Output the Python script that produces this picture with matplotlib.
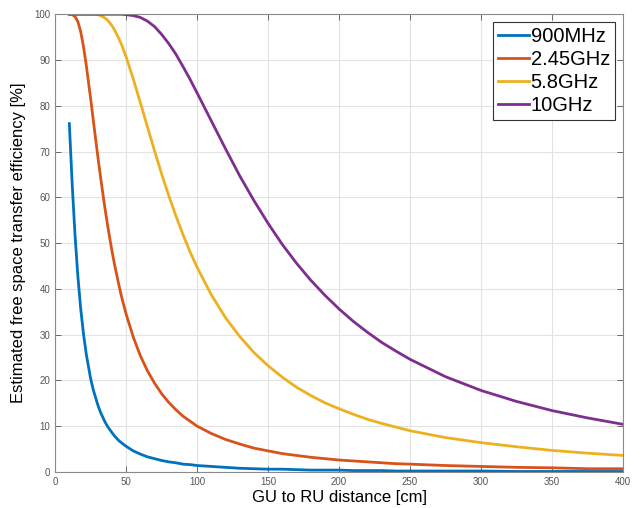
import numpy as np
import matplotlib
matplotlib.use("Agg")
import matplotlib.pyplot as plt

plt.rcParams['font.family'] = ['Liberation Sans', 'DejaVu Sans']

# distance from GU to RU [cm]
distance = [10, 12, 14, 16, 18, 20, 22, 25, 27, 30, 32, 35, 37, 40, 42, 45, 47, 50,
            55, 60, 65, 70, 75, 80, 85, 90, 95, 100, 110, 120, 130, 140, 150, 160,
            170, 180, 190, 200, 210, 220, 230, 240, 250, 275, 300, 325, 350, 375, 400]

# estimated efficiency [%]
eff_900mhz = [76.1, 63.0, 51.8, 42.8, 35.7, 30.1, 25.6, 20.4, 17.8, 14.7, 13.0, 11.0,
              9.9, 8.6, 7.8, 6.8, 6.3, 5.6, 4.6, 3.9, 3.3, 2.9, 2.5, 2.2, 2.0, 1.7,
              1.6, 1.4, 1.2, 1.0, 0.8, 0.7, 0.6, 0.6,
              0.5, 0.4, 0.4, 0.4, 0.3, 0.3, 0.3, 0.2, 0.2, 0.2, 0.2,
              0.1, 0.1, 0.1, 0.1]
eff_2450mhz = [100.0, 99.9, 99.5, 98.4, 96.2, 92.9, 88.7, 81.6, 76.5, 69.1, 64.4, 57.8,
               53.8, 48.3, 45.1, 40.7, 38.0, 34.5, 29.5, 25.4, 22.1, 19.4, 17.1, 15.2,
               13.6, 12.2, 11.1, 10.0, 8.4, 7.1, 6.1, 5.2, 4.6, 4.0,
               3.6, 3.2, 2.9, 2.6, 2.4, 2.2, 2.0, 1.8, 1.7, 1.4, 1.2,
               1.0, 0.9, 0.7, 0.7]
eff_5800mhz = [100.0, 100.0, 100.0, 100.0, 100.0, 100.0, 100.0, 100.0, 100.0, 99.9,
               99.7, 99.2, 98.7, 97.5, 96.5, 94.6, 93.2, 90.7, 85.9, 80.7, 75.4, 70.2,
               65.1, 60.4, 56.0, 51.9, 48.1, 44.7, 38.7, 33.7, 29.6, 26.1, 23.2, 20.7,
               18.5, 16.7, 15.1, 13.8, 12.6, 11.5, 10.6, 9.8, 9.0, 7.5, 6.4,
               5.5, 4.7, 4.1, 3.6]
eff_10ghz = [100.0, 100.0, 100.0, 100.0, 100.0, 100.0, 100.0, 100.0, 100.0, 100.0,
             100.0, 100.0, 100.0, 100.0, 100.0, 100.0, 100.0, 99.9, 99.7, 99.3, 98.5,
             97.3, 95.6, 93.6, 91.3, 88.6, 85.8, 82.8, 76.7, 70.6, 64.7, 59.3, 54.3,
             49.7, 45.6, 41.9, 38.6, 35.6, 32.9, 30.5, 28.3, 26.4, 24.6, 20.8, 17.8,
             15.4, 13.4, 11.8, 10.4]

labels = ['900MHz', '2.45GHz', '5.8GHz', '10GHz']
colors = ['#0072BD', '#D95319', '#EDB120', '#7E2F8E']
series = [eff_900mhz, eff_2450mhz, eff_5800mhz, eff_10ghz]

fig = plt.figure(figsize=(6.41, 5.08), dpi=100)
ax = fig.add_axes([0.086, 0.071, 0.886, 0.901])

for y, lab, c in zip(series, labels, colors):
    ax.plot(distance, y, color=c, lw=2, label=lab)

ax.set_xlim(0, 400)
ax.set_ylim(0, 100)
ax.set_xticks(np.arange(0, 401, 50))
ax.set_yticks(np.arange(0, 101, 10))
ax.grid(True, color='#e3e3e3', lw=0.8)
ax.set_axisbelow(True)
ax.tick_params(direction='in', top=True, right=True, labelsize=7,
               colors='#555555', length=4, width=0.6)
for s in ax.spines.values():
    s.set_color('#8a8a8a')
    s.set_linewidth(0.8)

ax.set_xlabel('GU to RU distance [cm]', fontsize=12, labelpad=2)
ax.set_ylabel('Estimated free space transfer efficiency [%]', fontsize=12, labelpad=6)

leg = ax.legend(loc='upper right', fontsize=14.5, handlelength=1.5, handletextpad=0.1,
                borderpad=0.25, labelspacing=0.2, fancybox=False, framealpha=1,
                borderaxespad=0.4)
leg.get_frame().set_edgecolor('#333333')
leg.get_frame().set_linewidth(0.8)

fig.savefig('out.png', dpi=100)
